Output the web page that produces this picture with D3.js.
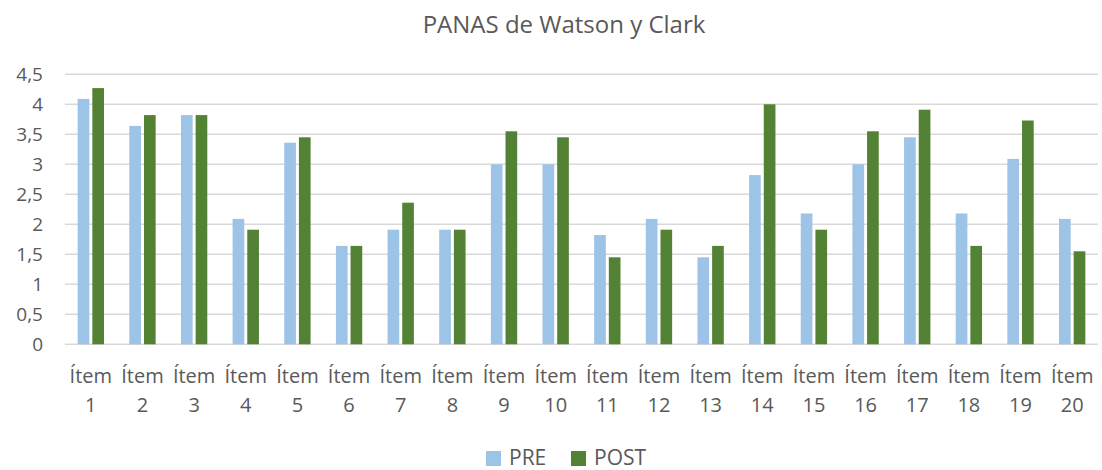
<!DOCTYPE html>
<head>
  <meta charset="utf-8">
  <script src="https://d3js.org/d3.v7.min.js"></script>
  <style>
    body { margin:0; background:#fff; }
    text { font-family: "Open Sans", "Liberation Sans", sans-serif; fill:#595959; }
    .grid line { stroke:#d9d9d9; stroke-width:1.5px; }
  </style>
</head>
<body>
  <script>
    // chart data
    var items = ["1","2","3","4","5","6","7","8","9","10","11","12","13","14","15","16","17","18","19","20"];
    var pre  = [4.09,3.64,3.82,2.09,3.36,1.64,1.91,1.91,3.00,3.00,1.82,2.09,1.45,2.82,2.18,3.00,3.45,2.18,3.09,2.09];
    var post = [4.27,3.82,3.82,1.91,3.45,1.64,2.36,1.91,3.55,3.45,1.45,1.91,1.64,4.00,1.91,3.55,3.91,1.64,3.73,1.55];
    var series = ["PRE","POST"];
    var colors = ["#9dc3e6","#548235"];
    var yTicks = [0,0.5,1,1.5,2,2.5,3,3.5,4,4.5];
    var yTickLabels = ["0","0,5","1","1,5","2","2,5","3","3,5","4","4,5"];

    var width = 1102, height = 470;
    var plot = {left: 65, right: 1098, top: 74.3, bottom: 344.3};

    var svg = d3.select("body").append("svg")
        .attr("width", width)
        .attr("height", height);

    var x0 = d3.scaleBand().domain(items)
        .range([plot.left, plot.right])
        .paddingInner(0.49).paddingOuter(0.245);
    var x1 = d3.scaleBand().domain(series)
        .range([0, x0.bandwidth()])
        .paddingInner(0.204);
    var y = d3.scaleLinear().domain([0, 4.5]).range([plot.bottom, plot.top]);

    // gridlines
    svg.append("g").attr("class", "grid")
      .selectAll("line").data(yTicks).enter().append("line")
        .attr("x1", plot.left).attr("x2", plot.right)
        .attr("y1", function(d) { return y(d); })
        .attr("y2", function(d) { return y(d); });

    // y labels
    svg.append("g").selectAll("text").data(yTicks).enter().append("text")
        .attr("x", 43)
        .attr("y", function(d) { return y(d); })
        .attr("dy", "0.35em")
        .attr("text-anchor", "end")
        .style("font-size", "19px")
        .text(function(d, i) { return yTickLabels[i]; });

    // bars
    var rows = items.map(function(it, i) { return {item: it, vals: [pre[i], post[i]]}; });
    var grp = svg.append("g").selectAll("g").data(rows).enter().append("g")
        .attr("transform", function(d) { return "translate(" + x0(d.item) + ",0)"; });
    grp.selectAll("rect").data(function(d) {
        return series.map(function(s, k) { return {s: s, k: k, v: d.vals[k]}; });
      }).enter().append("rect")
        .attr("x", function(d) { return x1(d.s); })
        .attr("width", x1.bandwidth())
        .attr("y", function(d) { return y(d.v); })
        .attr("height", function(d) { return y(0) - y(d.v); })
        .attr("fill", function(d) { return colors[d.k]; });

    // x labels, two lines
    var xl = svg.append("g").selectAll("text").data(items).enter().append("text")
        .attr("text-anchor", "middle")
        .style("font-size", "20px");
    xl.append("tspan")
        .attr("x", function(d) { return x0(d) + x0.bandwidth() / 2; })
        .attr("y", 383)
        .text("Ítem");
    xl.append("tspan")
        .attr("x", function(d) { return x0(d) + x0.bandwidth() / 2; })
        .attr("y", 412)
        .text(function(d) { return d; });

    // title
    svg.append("text")
        .attr("x", 564).attr("y", 33)
        .attr("text-anchor", "middle")
        .style("font-size", "24px")
        .text("PANAS de Watson y Clark");

    // legend
    var legX = [486, 571];
    var leg = svg.append("g").selectAll("g").data(series).enter().append("g")
        .attr("transform", function(d, i) { return "translate(" + legX[i] + ",0)"; });
    leg.append("rect")
        .attr("y", 451).attr("width", 15).attr("height", 15)
        .attr("fill", function(d, i) { return colors[i]; });
    leg.append("text")
        .attr("x", 23).attr("y", 465)
        .style("font-size", "21px")
        .text(function(d) { return d; });
  </script>
</body>
